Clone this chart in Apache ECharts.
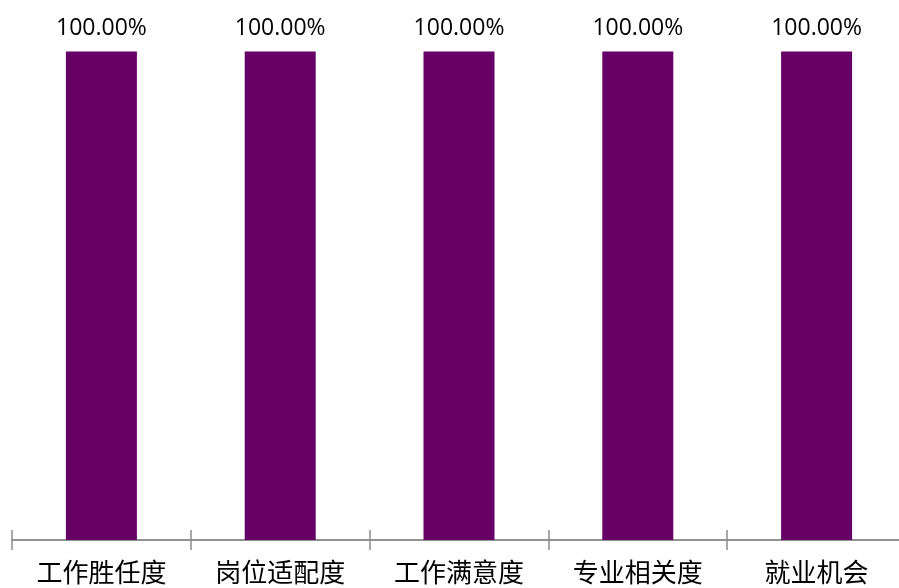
<!DOCTYPE html>
<html><head><meta charset="utf-8">
<script src="https://cdn.jsdelivr.net/npm/echarts@6/dist/echarts.min.js"></script>
<style>html,body{margin:0;padding:0;background:#fff}#c{width:899px;height:588px}</style>
</head><body><div id="c"></div>
<script>
const categories = ['工作胜任度','岗位适配度','工作满意度','专业相关度','就业机会'];
const values = [100, 100, 100, 100, 100];
const chart = echarts.init(document.getElementById('c'));
const axisCommon = {
  type: 'category', data: categories, position: 'bottom',
  axisLine: {show: true, lineStyle: {color: '#8c8c8c', width: 1.5}},
  axisTick: {show: true, length: 10, lineStyle: {color: '#8c8c8c', width: 1.5}}
};
chart.setOption({
  animation: false,
  grid: {left: 12, width: 894, top: 51.5, bottom: 48, containLabel: false, outerBoundsMode: 'none'},
  xAxis: [
    Object.assign({}, axisCommon, {
      axisLabel: {color: '#000', fontSize: 26, margin: 19, fontFamily: 'Noto Sans CJK SC'}
    }),
    Object.assign({}, axisCommon, {
      axisTick: {show: true, inside: true, length: 10, lineStyle: {color: '#8c8c8c', width: 1.5}},
      axisLabel: {show: false}
    })
  ],
  yAxis: {type: 'value', min: 0, max: 100, show: false, splitLine: {show: false}},
  series: [{
    type: 'bar', data: values, barWidth: 71, xAxisIndex: 0,
    itemStyle: {color: '#660066'},
    label: {show: true, position: 'top', distance: 12, color: '#000', fontSize: 23,
      fontFamily: 'Open Sans',
      formatter: p => p.value.toFixed(2) + '%'}
  }]
});
</script></body></html>
